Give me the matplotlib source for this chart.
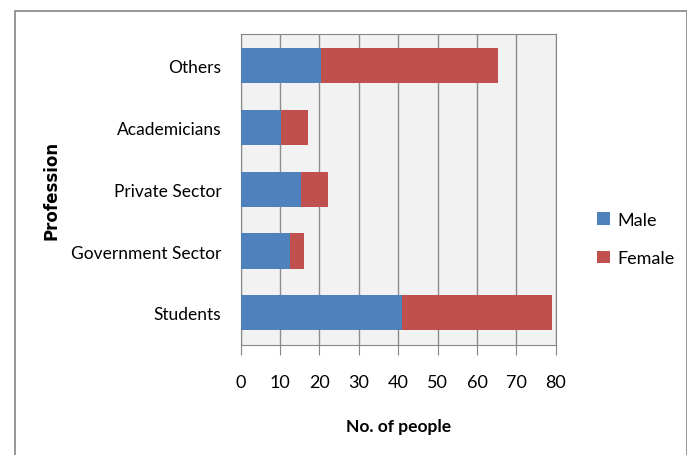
import matplotlib.pyplot as plt
from matplotlib.patches import Rectangle
import numpy as np

# data
professions = ["Students", "Government Sector", "Private Sector", "Academicians", "Others"]
male = [41, 12.6, 15.3, 10.2, 20.3]
female = [38, 3.6, 6.8, 7.0, 45]
xticks = [0, 10, 20, 30, 40, 50, 60, 70, 80]

plt.rcParams['font.family'] = ['Lato', 'DejaVu Sans']

fig = plt.figure(figsize=(6.87, 4.56), dpi=100)
# outer chart border
fig.patches.append(Rectangle((15 / 687, -0.05), 672 / 687, 1 - 12 / 456 + 0.05,
                             transform=fig.transFigure, fill=False,
                             edgecolor='#868686', linewidth=1.2))

ax = fig.add_axes([240.7 / 687, 1 - 346 / 456, 315 / 687, 311.5 / 456])
ax.set_facecolor('#f2f2f2')

y = np.arange(len(professions))
ax.barh(y, male, height=0.57, color='#4f81bd', label='Male', zorder=3)
ax.barh(y, female, left=male, height=0.57, color='#c0504d', label='Female', zorder=3)

ax.set_xlim(0, 80)
ax.set_ylim(-0.52, 4.52)
ax.set_xticks(xticks)
ax.set_yticks(y)
ax.set_yticklabels(professions, fontsize=12.5)
ax.tick_params(axis='x', labelsize=13, length=7, color='#868686', pad=14)
ax.tick_params(axis='y', length=0, pad=14)
ax.grid(axis='x', color='#8c8c8c', linewidth=1, zorder=0)
for s in ax.spines.values():
    s.set_color('#868686')

ax.set_xlabel('No. of people', fontsize=12.5, fontweight='bold', labelpad=20)
fig.text(52 / 687, 1 - 190 / 456, 'Profession', rotation=90, fontsize=12,
         fontweight='bold', ha='center', va='center', family='DejaVu Sans')

ax.legend(loc='center left', bbox_to_anchor=(1.08, 0.34), frameon=False,
          fontsize=13, handlelength=0.7, handleheight=0.7, labelspacing=1.25,
          handletextpad=0.4)

plt.savefig('out.png')
plt.close(fig)
